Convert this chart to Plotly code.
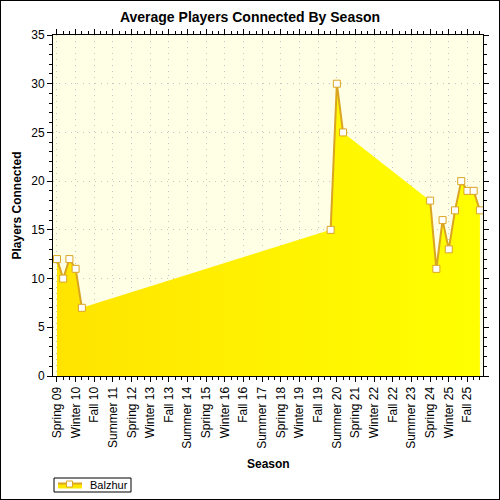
"""Average players connected by season, area chart with broken line."""

import plotly.graph_objects as go

# every season on the axis, in order
seasons = [
    "Spring 09", "Summer 09", "Fall 09", "Winter 10",
    "Spring 10", "Summer 10", "Fall 10", "Winter 11",
    "Spring 11", "Summer 11", "Fall 11", "Winter 12",
    "Spring 12", "Summer 12", "Fall 12", "Winter 13",
    "Spring 13", "Summer 13", "Fall 13", "Winter 14",
    "Spring 14", "Summer 14", "Fall 14", "Winter 15",
    "Spring 15", "Summer 15", "Fall 15", "Winter 16",
    "Spring 16", "Summer 16", "Fall 16", "Winter 17",
    "Spring 17", "Summer 17", "Fall 17", "Winter 18",
    "Spring 18", "Summer 18", "Fall 18", "Winter 19",
    "Spring 19", "Summer 19", "Fall 19", "Winter 20",
    "Spring 20", "Summer 20", "Fall 20", "Winter 21",
    "Spring 21", "Summer 21", "Fall 21", "Winter 22",
    "Spring 22", "Summer 22", "Fall 22", "Winter 23",
    "Spring 23", "Summer 23", "Fall 23", "Winter 24",
    "Spring 24", "Summer 24", "Fall 24", "Winter 25",
    "Spring 25", "Summer 25", "Fall 25", "Winter 26",
    "Spring 26",
]

# seasons that have a value
played = [
    "Spring 09", "Summer 09", "Fall 09", "Winter 10", "Spring 10",
    "Spring 20", "Summer 20", "Fall 20",
    "Spring 24", "Summer 24", "Fall 24", "Winter 25",
    "Spring 25", "Summer 25", "Fall 25", "Winter 26", "Spring 26",
]
players = [12, 10, 12, 11, 7, 15, 30, 25, 18, 11, 16, 13, 17, 20, 19, 19, 17]

series_name = "Balzhur"
title = "Average Players Connected By Season"
x_title = "Season"
y_title = "Players Connected"

# %%
pos = [seasons.index(s) for s in played]

# line is broken where seasons are missing, the area is not
line_x, line_y = [], []
for i, (x, y) in enumerate(zip(pos, players)):
    if i and x - pos[i - 1] > 1:
        line_x.append(None)
        line_y.append(None)
    line_x.append(x)
    line_y.append(y)

gold = "#DAA520"
grad = dict(type="horizontal", colorscale=[[0, "#FFE400"], [1, "#FFFF00"]])
font = "Arial, Liberation Sans, sans-serif"

fig = go.Figure()
fig.add_scatter(
    x=pos,
    y=players,
    mode="lines",
    line=dict(width=0, color=gold),
    fill="tozeroy",
    fillgradient=grad,
    showlegend=False,
    hoverinfo="skip",
)
fig.add_scatter(
    x=line_x,
    y=line_y,
    name=series_name,
    mode="lines+markers",
    connectgaps=False,
    line=dict(width=2, color=gold),
    marker=dict(symbol="square", size=7, color="white", line=dict(width=1, color=gold)),
    customdata=[seasons[x] if x is not None else None for x in line_x],
    hovertemplate="%{customdata}: %{y}<extra></extra>",
    showlegend=False,
)

tick_idx = list(range(0, len(seasons), 3))
axis_common = dict(
    showline=True,
    linecolor="black",
    linewidth=1,
    mirror="allticks",
    ticks="outside",
    ticklen=5,
    tickcolor="black",
    gridcolor="#C4C4C4",
    griddash="1px,5px",
    gridwidth=1,
    zeroline=False,
    automargin=False,
    tickfont=dict(size=12, color="black", family=font),
)
fig.update_xaxes(
    **axis_common,
    range=[-0.64, 68.5],
    tickvals=tick_idx,
    ticktext=[seasons[i] for i in tick_idx],
    tickangle=-90,
    minor=dict(dtick=1, tick0=0, ticklen=3, ticks="outside", tickcolor="black", showgrid=False),
)
fig.update_yaxes(
    **axis_common,
    range=[0, 35],
    dtick=5,
    minor=dict(dtick=1, ticklen=3, ticks="outside", tickcolor="black", showgrid=False),
)

# plot area in pixels: l=53, r=17, t=35, b=124
pw, ph = 500 - 53 - 17, 500 - 35 - 124


def px(x):  # pixel column -> paper x
    return (x - 53) / pw


def py(y):  # pixel row -> paper y
    return (376 - y) / ph


# axis titles as annotations so they sit where the reference has them
title_font = dict(size=12, family=font, color="black")
fig.add_annotation(
    text=f"<b>{x_title}</b>", xref="paper", yref="paper", x=0.5, y=py(464),
    xanchor="center", yanchor="middle", showarrow=False, font=title_font,
)
fig.add_annotation(
    text=f"<b>{y_title}</b>", xref="paper", yref="paper", x=px(16), y=0.5,
    xanchor="center", yanchor="middle", textangle=-90, showarrow=False, font=title_font,
)

# outer frame around the whole image
paper_shape = dict(xref="paper", yref="paper", layer="above")
fig.add_shape(
    type="rect", x0=px(0), x1=px(500), y0=py(500), y1=py(0),
    line=dict(color="black", width=2), **paper_shape,
)

# legend box drawn by hand (plotly's own legend is much taller)
fig.add_shape(
    type="rect", x0=px(54), x1=px(131), y0=py(492), y1=py(478),
    line=dict(color="black", width=1), fillcolor="white", **paper_shape,
)
fig.add_shape(
    type="rect", x0=px(58), x1=px(82), y0=py(488.5), y1=py(483),
    line=dict(width=0), fillcolor="#FFE800", **paper_shape,
)
fig.add_shape(
    type="line", x0=px(58), x1=px(82), y0=py(483.5), y1=py(483.5),
    line=dict(color=gold, width=2), **paper_shape,
)
fig.add_shape(
    type="rect", x0=px(66.5), x1=px(72.5), y0=py(487), y1=py(481),
    line=dict(color=gold, width=1), fillcolor="white", **paper_shape,
)
fig.add_annotation(
    text=series_name, xref="paper", yref="paper", x=px(88), y=py(485),
    xanchor="left", yanchor="middle", showarrow=False,
    font=dict(size=11, family=font, color="black"),
)

fig.update_layout(
    width=500,
    height=500,
    margin=dict(l=53, r=17, t=35, b=124, autoexpand=False),
    paper_bgcolor="white",
    plot_bgcolor="#FFFFE6",
    font=dict(family=font, color="black"),
    title=dict(
        text=f"<b>{title}</b>",
        x=0.5,
        xref="container",
        y=0.966,
        yanchor="middle",
        font=dict(size=14, family=font),
    ),
    showlegend=False,
)

fig.write_html(
    "out.html",
    config={"displayModeBar": False},
    post_script="document.body.style.margin='0';",
)
